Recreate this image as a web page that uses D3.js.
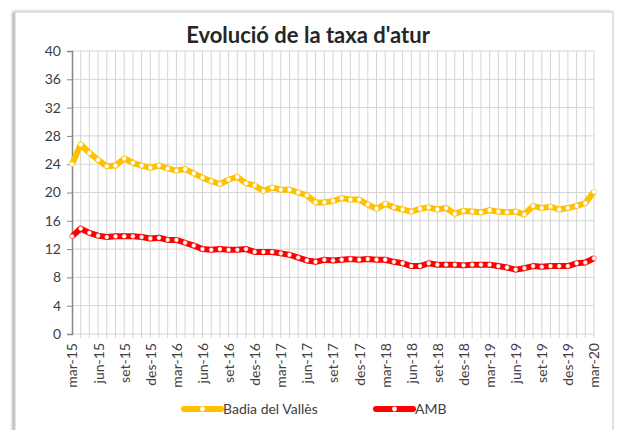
<!DOCTYPE html>
<html>
<head>
<meta charset="utf-8">
<script src="https://cdn.jsdelivr.net/npm/d3@7"></script>
<style>
  body { margin: 0; background: #fff; }
  svg { display: block; font-family: Lato, 'Open Sans', sans-serif; }
</style>
</head>
<body>
<div class="canvas"></div>
<script>
// month labels, mar-15 .. mar-20
const monthNames = ['gen','feb','mar','abr','mai','jun','jul','ago','set','oct','nov','des'];
const categories = [];
for (let i = 0; i <= 60; i++) {
    const m = (2 + i) % 12;
    const y = 15 + Math.floor((2 + i) / 12);
    categories.push(`${monthNames[m]}-${y}`);
}
const tickLabels = categories.filter((d, i) => i % 3 === 0);
const yTicks = [0, 4, 8, 12, 16, 20, 24, 28, 32, 36, 40];

const badia = [
    24.0, 26.8, 25.6, 24.6, 23.7, 23.8, 24.8, 24.2, 23.8, 23.5,
    23.8, 23.4, 23.1, 23.3, 22.7, 22.1, 21.6, 21.2, 21.8, 22.2,
    21.3, 21.0, 20.2, 20.7, 20.4, 20.4, 20.0, 19.6, 18.6, 18.6,
    18.8, 19.2, 19.0, 19.0, 18.3, 17.7, 18.4, 17.9, 17.6, 17.3,
    17.7, 17.9, 17.6, 17.8, 17.0, 17.4, 17.3, 17.2, 17.5, 17.3,
    17.2, 17.3, 16.9, 18.1, 17.8, 18.0, 17.6, 17.8, 18.1, 18.5,
    20.1
];
const amb = [
    13.8, 14.9, 14.3, 13.9, 13.7, 13.8, 13.8, 13.8, 13.7, 13.5,
    13.6, 13.3, 13.3, 12.9, 12.5, 12.0, 11.9, 12.0, 11.9, 11.9,
    12.0, 11.6, 11.6, 11.6, 11.4, 11.2, 10.8, 10.4, 10.2, 10.5,
    10.4, 10.5, 10.6, 10.5, 10.6, 10.5, 10.5, 10.2, 10.0, 9.6,
    9.6, 10.0, 9.8, 9.8, 9.8, 9.7, 9.8, 9.8, 9.8, 9.6,
    9.4, 9.1, 9.3, 9.6, 9.5, 9.6, 9.6, 9.6, 10.0, 10.1,
    10.7
];
const series = [
    { name: 'Badia del Vallès', values: badia, color: '#FFC000' },
    { name: 'AMB', values: amb, color: '#FF0000' }
];

const width = 624, height = 430;
const margin = { top: 51, right: 30, bottom: 96, left: 72 };
const graphWidth = width - margin.left - margin.right;
const graphHeight = height - margin.top - margin.bottom;

const svg = d3.select('.canvas')
    .append('svg')
    .attr('width', width)
    .attr('height', height);

// chart frame with shadow
const defs = svg.append('defs');
const shadow = defs.append('filter').attr('id', 'shadow')
    .attr('x', '-5%').attr('y', '-5%').attr('width', '110%').attr('height', '110%');
shadow.append('feDropShadow')
    .attr('dx', -2).attr('dy', 0).attr('stdDeviation', 1.5)
    .attr('flood-color', '#000').attr('flood-opacity', 0.35);

svg.append('rect')
    .attr('x', 15).attr('y', 12)
    .attr('width', 598).attr('height', 440)
    .attr('fill', '#fff')
    .attr('stroke', '#c8c8c8')
    .attr('filter', 'url(#shadow)');

svg.append('text')
    .attr('x', 308).attr('y', 43)
    .attr('text-anchor', 'middle')
    .attr('font-size', 22)
    .attr('font-weight', 'bold')
    .attr('fill', '#262626')
    .text("Evolució de la taxa d'atur");

const graph = svg.append('g')
    .attr('transform', `translate(${margin.left},${margin.top})`);

// scales
const x = d3.scalePoint().domain(categories).range([0, graphWidth]);
const y = d3.scaleLinear().domain([0, 40]).range([graphHeight, 0]);

// gridlines
graph.append('g')
    .selectAll('line')
    .data(categories.slice(1))
    .join('line')
    .attr('x1', d => x(d)).attr('x2', d => x(d))
    .attr('y1', 0).attr('y2', graphHeight + 4)
    .attr('stroke', '#d4d4d4')
    .attr('stroke-width', 1);

graph.append('g')
    .selectAll('line')
    .data(yTicks)
    .join('line')
    .attr('x1', 0).attr('x2', graphWidth)
    .attr('y1', d => y(d)).attr('y2', d => y(d))
    .attr('stroke', '#d4d4d4')
    .attr('stroke-width', 1);

// axes
const yAxis = d3.axisLeft(y).tickValues(yTicks).tickSize(5).tickPadding(6);
const yAxisGroup = graph.append('g').call(yAxis);
yAxisGroup.select('.domain').attr('stroke', '#868686').attr('stroke-width', 1.5);
yAxisGroup.selectAll('line').attr('stroke', '#868686');
yAxisGroup.selectAll('text')
    .attr('font-size', 14)
    .attr('font-family', 'Lato, sans-serif')
    .attr('fill', '#404040');

const xAxis = d3.axisBottom(x)
    .tickValues(tickLabels)
    .tickSize(0)
    .tickPadding(0);
const xAxisGroup = graph.append('g')
    .attr('transform', `translate(0,${graphHeight})`)
    .call(xAxis);
xAxisGroup.select('.domain').remove();
xAxisGroup.selectAll('text')
    .attr('font-size', 14)
    .attr('font-family', 'Lato, sans-serif')
    .attr('fill', '#404040')
    .attr('text-anchor', 'end')
    .attr('dy', '0.35em')
    .attr('transform', 'translate(0,9) rotate(-90)')
    .attr('x', 0).attr('y', 0);

// lines
const line = d3.line()
    .x((d, i) => x(categories[i]))
    .y(d => y(d));

series.forEach(s => {
    graph.append('path')
        .datum(s.values)
        .attr('fill', 'none')
        .attr('stroke', s.color)
        .attr('stroke-width', 6)
        .attr('stroke-linejoin', 'round')
        .attr('d', line);

    graph.append('g')
        .selectAll('circle')
        .data(s.values)
        .join('circle')
        .attr('cx', (d, i) => x(categories[i]))
        .attr('cy', d => y(d))
        .attr('r', 2.4)
        .attr('fill', '#fff')
        .attr('stroke', s.color)
        .attr('stroke-width', 0.5);
});

// legend
const legend = svg.append('g').attr('transform', 'translate(0,409)');
const legendItems = [
    { s: series[0], x: 184 },
    { s: series[1], x: 376 }
];
legendItems.forEach(item => {
    const g = legend.append('g').attr('transform', `translate(${item.x},0)`);
    g.append('line')
        .attr('x1', 0).attr('x2', 37)
        .attr('stroke', item.s.color)
        .attr('stroke-width', 6)
        .attr('stroke-linecap', 'round');
    g.append('circle')
        .attr('cx', 18.5).attr('r', 2.4)
        .attr('fill', '#fff');
    g.append('text')
        .attr('x', 39).attr('dy', '0.35em')
        .attr('font-size', 14)
        .attr('fill', '#404040')
        .text(item.s.name);
});
</script>
</body>
</html>
